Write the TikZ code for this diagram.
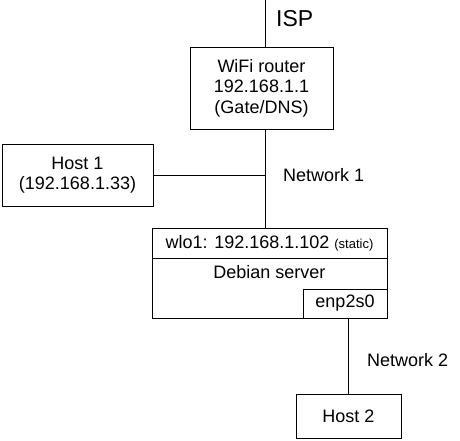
\documentclass[tikz,border=0pt]{standalone}
\usepackage{fontspec}
\setmainfont{Liberation Sans}
\begin{document}
\begin{tikzpicture}[x=1pt,y=-1pt,
  box/.style={draw,line width=1pt,inner sep=0pt,align=center,
    font=\fontsize{18}{20.5}\selectfont},
  lbl/.style={inner sep=0pt,anchor=west,font=\fontsize{18}{20.5}\selectfont},
  wire/.style={line width=1pt}]
\useasboundingbox (0,0) rectangle (460,440);
\node[box,minimum width=143pt,minimum height=82pt] (router) at (261.5,88)
  {WiFi router\\192.168.1.1\\(Gate/DNS)};
\node[box,minimum width=151pt,minimum height=62pt] (host1) at (77.5,175)
  {Host 1\\(192.168.1.33)};
\node[box,minimum width=235pt,minimum height=90pt] (server) at (269.5,273) {};
\node[box,minimum width=235pt,minimum height=30pt] (wlo) at (269.5,243)
  {wlo1: 192.168.1.102 {\fontsize{13}{15}\selectfont(static)}};
\node[inner sep=0pt,font=\fontsize{18}{20.5}\selectfont] (deb) at (269.5,272) {Debian server};
\node[box,minimum width=84pt,minimum height=29pt] (enp) at (345,303.5) {enp2s0};
\node[box,minimum width=105pt,minimum height=44pt] (host2) at (348.5,416) {Host 2};
\coordinate (top) at (265.5,0);
\node[inner sep=0pt,anchor=west,font=\fontsize{23}{26}\selectfont] (isp) at (276,18.5) {ISP};
\node[lbl] (net1) at (283,175) {Network 1};
\node[lbl] (net2) at (367,360) {Network 2};
\draw[wire] (top) -- (top |- router.north);
\draw[wire] (router.south -| top) -- (server.north -| top);
\draw[wire] (host1.east) -- (host1.east -| top);
\draw[wire] (enp.south -| host2.north) -- (host2.north);
\end{tikzpicture}
\end{document}
